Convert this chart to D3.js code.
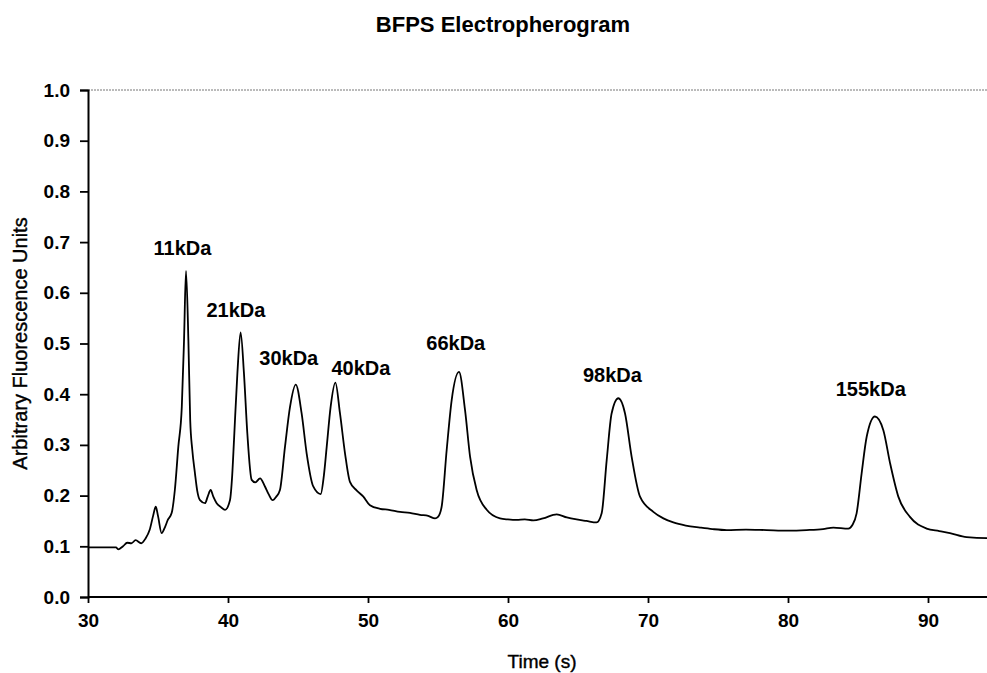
<!DOCTYPE html>
<html>
<head>
<meta charset="utf-8">
<script src="https://cdn.jsdelivr.net/npm/d3@7"></script>
<style>
  html, body { margin: 0; padding: 0; background: #fff; }
  svg { display: block; font-family: "Liberation Sans", Arial, sans-serif; }
</style>
</head>
<body>
<svg id="chart" width="987" height="673"></svg>
<script>
// Migration time (s) of each trace sample
const times = [
  30.0, 31.0, 32.0, 32.15, 32.5, 32.8, 33.1, 33.4, 33.8, 34.1, 34.4, 34.65, 34.84, 35.0, 35.26,
  35.5, 35.7, 35.98, 36.2, 36.45, 36.7, 36.86, 37.0, 37.17, 37.3, 37.45, 37.64, 37.8, 38.0,
  38.36, 38.55, 38.76, 38.95, 39.19, 39.5, 39.79, 40.14, 40.3, 40.43, 40.67, 40.9, 41.14,
  41.38, 41.69, 41.95, 42.29, 42.64, 42.9, 43.19, 43.45, 43.71, 44.07, 44.43, 44.84, 45.26,
  45.62, 46.09, 46.62, 46.85, 47.05, 47.33, 47.67, 48.0, 48.36, 48.71, 49.2, 49.67, 50.14,
  50.86, 51.5, 52.29, 53.0, 53.71, 54.3, 54.79, 55.0, 55.26, 55.62, 55.98, 56.5, 56.93,
  57.29, 57.76, 58.48, 59.43, 60.0, 60.62, 61.2, 61.81, 62.5, 63.48, 64.2, 64.9, 65.6,
  66.33, 66.69, 67.05, 67.4, 67.88, 68.36, 68.83, 69.43, 70.38, 71.1, 71.81, 72.7, 73.71,
  74.6, 75.62, 77.0, 78.48, 80.0, 81.33, 82.5, 83.24, 84.31, 84.6, 84.9, 85.26, 85.62,
  86.21, 86.81, 87.29, 87.88, 88.71, 89.9, 90.8, 91.57, 92.76, 94.2, 95.0
];

// Fluorescence signal at each sample
const fluorescence = [
  0.098, 0.098, 0.098, 0.094, 0.100, 0.107, 0.106, 0.112, 0.106, 0.115, 0.132, 0.160, 0.178, 0.160, 0.126,
  0.138, 0.152, 0.166, 0.210, 0.296, 0.375, 0.507, 0.643, 0.507, 0.349, 0.290, 0.244, 0.210, 0.191,
  0.185, 0.198, 0.211, 0.198, 0.185, 0.177, 0.172, 0.191, 0.240, 0.310, 0.441, 0.522, 0.441,
  0.323, 0.231, 0.226, 0.234, 0.218, 0.203, 0.191, 0.198, 0.211, 0.296, 0.375, 0.419, 0.362,
  0.283, 0.218, 0.203, 0.240, 0.296, 0.375, 0.423, 0.362, 0.283, 0.227, 0.210, 0.198, 0.181,
  0.174, 0.172, 0.168, 0.166, 0.162, 0.160, 0.155, 0.158, 0.178, 0.290, 0.389, 0.444, 0.369,
  0.277, 0.211, 0.172, 0.155, 0.153, 0.152, 0.153, 0.151, 0.155, 0.163, 0.157, 0.153, 0.150,
  0.147, 0.165, 0.270, 0.362, 0.392, 0.362, 0.277, 0.198, 0.168, 0.155, 0.147, 0.141, 0.137,
  0.134, 0.132, 0.133, 0.132, 0.131, 0.132, 0.134, 0.137, 0.135, 0.142, 0.165, 0.244, 0.316,
  0.356, 0.329, 0.264, 0.198, 0.158, 0.135, 0.130, 0.126, 0.118, 0.116, 0.116
];

// Size-marker annotations and where they sit (time, signal)
const peakLabels = ["11kDa", "21kDa", "30kDa", "40kDa", "66kDa", "98kDa", "155kDa"];
const labelTimes = [36.75, 40.57, 44.34, 49.49, 56.27, 67.46, 85.91];
const labelValues = [0.675, 0.552, 0.458, 0.438, 0.487, 0.425, 0.396];

const xTicks = [30, 40, 50, 60, 70, 80, 90];
const yTicks = [0.0, 0.1, 0.2, 0.3, 0.4, 0.5, 0.6, 0.7, 0.8, 0.9, 1.0];

const titleText = "BFPS Electropherogram";
const xTitle = "Time (s)";
const yTitle = "Arbitrary Fluorescence Units";

const svg = d3.select("#chart");
const margin = { left: 88, top: 90, bottom: 76 };
const W = 987, H = 673;
const plotBottom = H - margin.bottom;
const pxPerSecond = 14;

const x = d3.scaleLinear()
  .domain([30, 30 + (W + 1 - margin.left) / pxPerSecond])
  .range([margin.left, W + 1]);
const y = d3.scaleLinear().domain([0, 1]).range([plotBottom, margin.top]);

// Top frame edge, dotted grey
svg.append("line")
  .attr("x1", x(30)).attr("x2", W)
  .attr("y1", y(1)).attr("y2", y(1))
  .attr("stroke", "#777").attr("stroke-width", 1)
  .attr("stroke-dasharray", "2,1");

// Trace
const points = times.map((t, i) => [t, fluorescence[i]]);
svg.append("path")
  .datum(points)
  .attr("fill", "none")
  .attr("stroke", "#000")
  .attr("stroke-width", 1.8)
  .attr("stroke-linejoin", "round")
  .attr("d", d3.line().x(d => x(d[0])).y(d => y(d[1])).curve(d3.curveMonotoneX));

// Axes
const xAxis = svg.append("g")
  .attr("transform", `translate(0,${plotBottom})`)
  .call(d3.axisBottom(x).tickValues(xTicks).tickFormat(d3.format("d")).tickSize(6).tickPadding(11));
const yAxis = svg.append("g")
  .attr("transform", `translate(${margin.left},0)`)
  .call(d3.axisLeft(y).tickValues(yTicks).tickFormat(d3.format(".1f")).tickSize(8).tickPadding(10));

[xAxis, yAxis].forEach(g => {
  g.select(".domain").attr("stroke", "#000").attr("stroke-width", 2);
  g.selectAll(".tick line").attr("stroke", "#000").attr("stroke-width", 1.8);
  g.selectAll(".tick text")
    .attr("fill", "#000")
    .style("font-family", '"Liberation Sans", Arial, sans-serif')
    .style("font-size", "19px")
    .style("font-weight", "bold");
});
xAxis.select(".domain").attr("d", `M${margin.left},0H${W + 1}`);

// Peak annotations
svg.append("g").selectAll("text")
  .data(peakLabels)
  .join("text")
  .attr("x", (d, i) => x(labelTimes[i]))
  .attr("y", (d, i) => y(labelValues[i]))
  .attr("text-anchor", "middle")
  .style("font-size", "20px")
  .style("font-weight", "bold")
  .attr("fill", "#000")
  .text(d => d);

// Titles
svg.append("text")
  .attr("x", 503).attr("y", 32)
  .attr("text-anchor", "middle")
  .style("font-size", "22px").style("font-weight", "bold")
  .text(titleText);

svg.append("text")
  .attr("x", 542).attr("y", 668)
  .attr("text-anchor", "middle")
  .style("font-size", "19px")
  .attr("stroke", "#000").attr("stroke-width", 0.4)
  .text(xTitle);

svg.append("text")
  .attr("transform", `translate(27,${(margin.top + plotBottom) / 2}) rotate(-90)`)
  .attr("text-anchor", "middle")
  .style("font-size", "20px")
  .attr("stroke", "#000").attr("stroke-width", 0.4)
  .text(yTitle);
</script>
</body>
</html>
